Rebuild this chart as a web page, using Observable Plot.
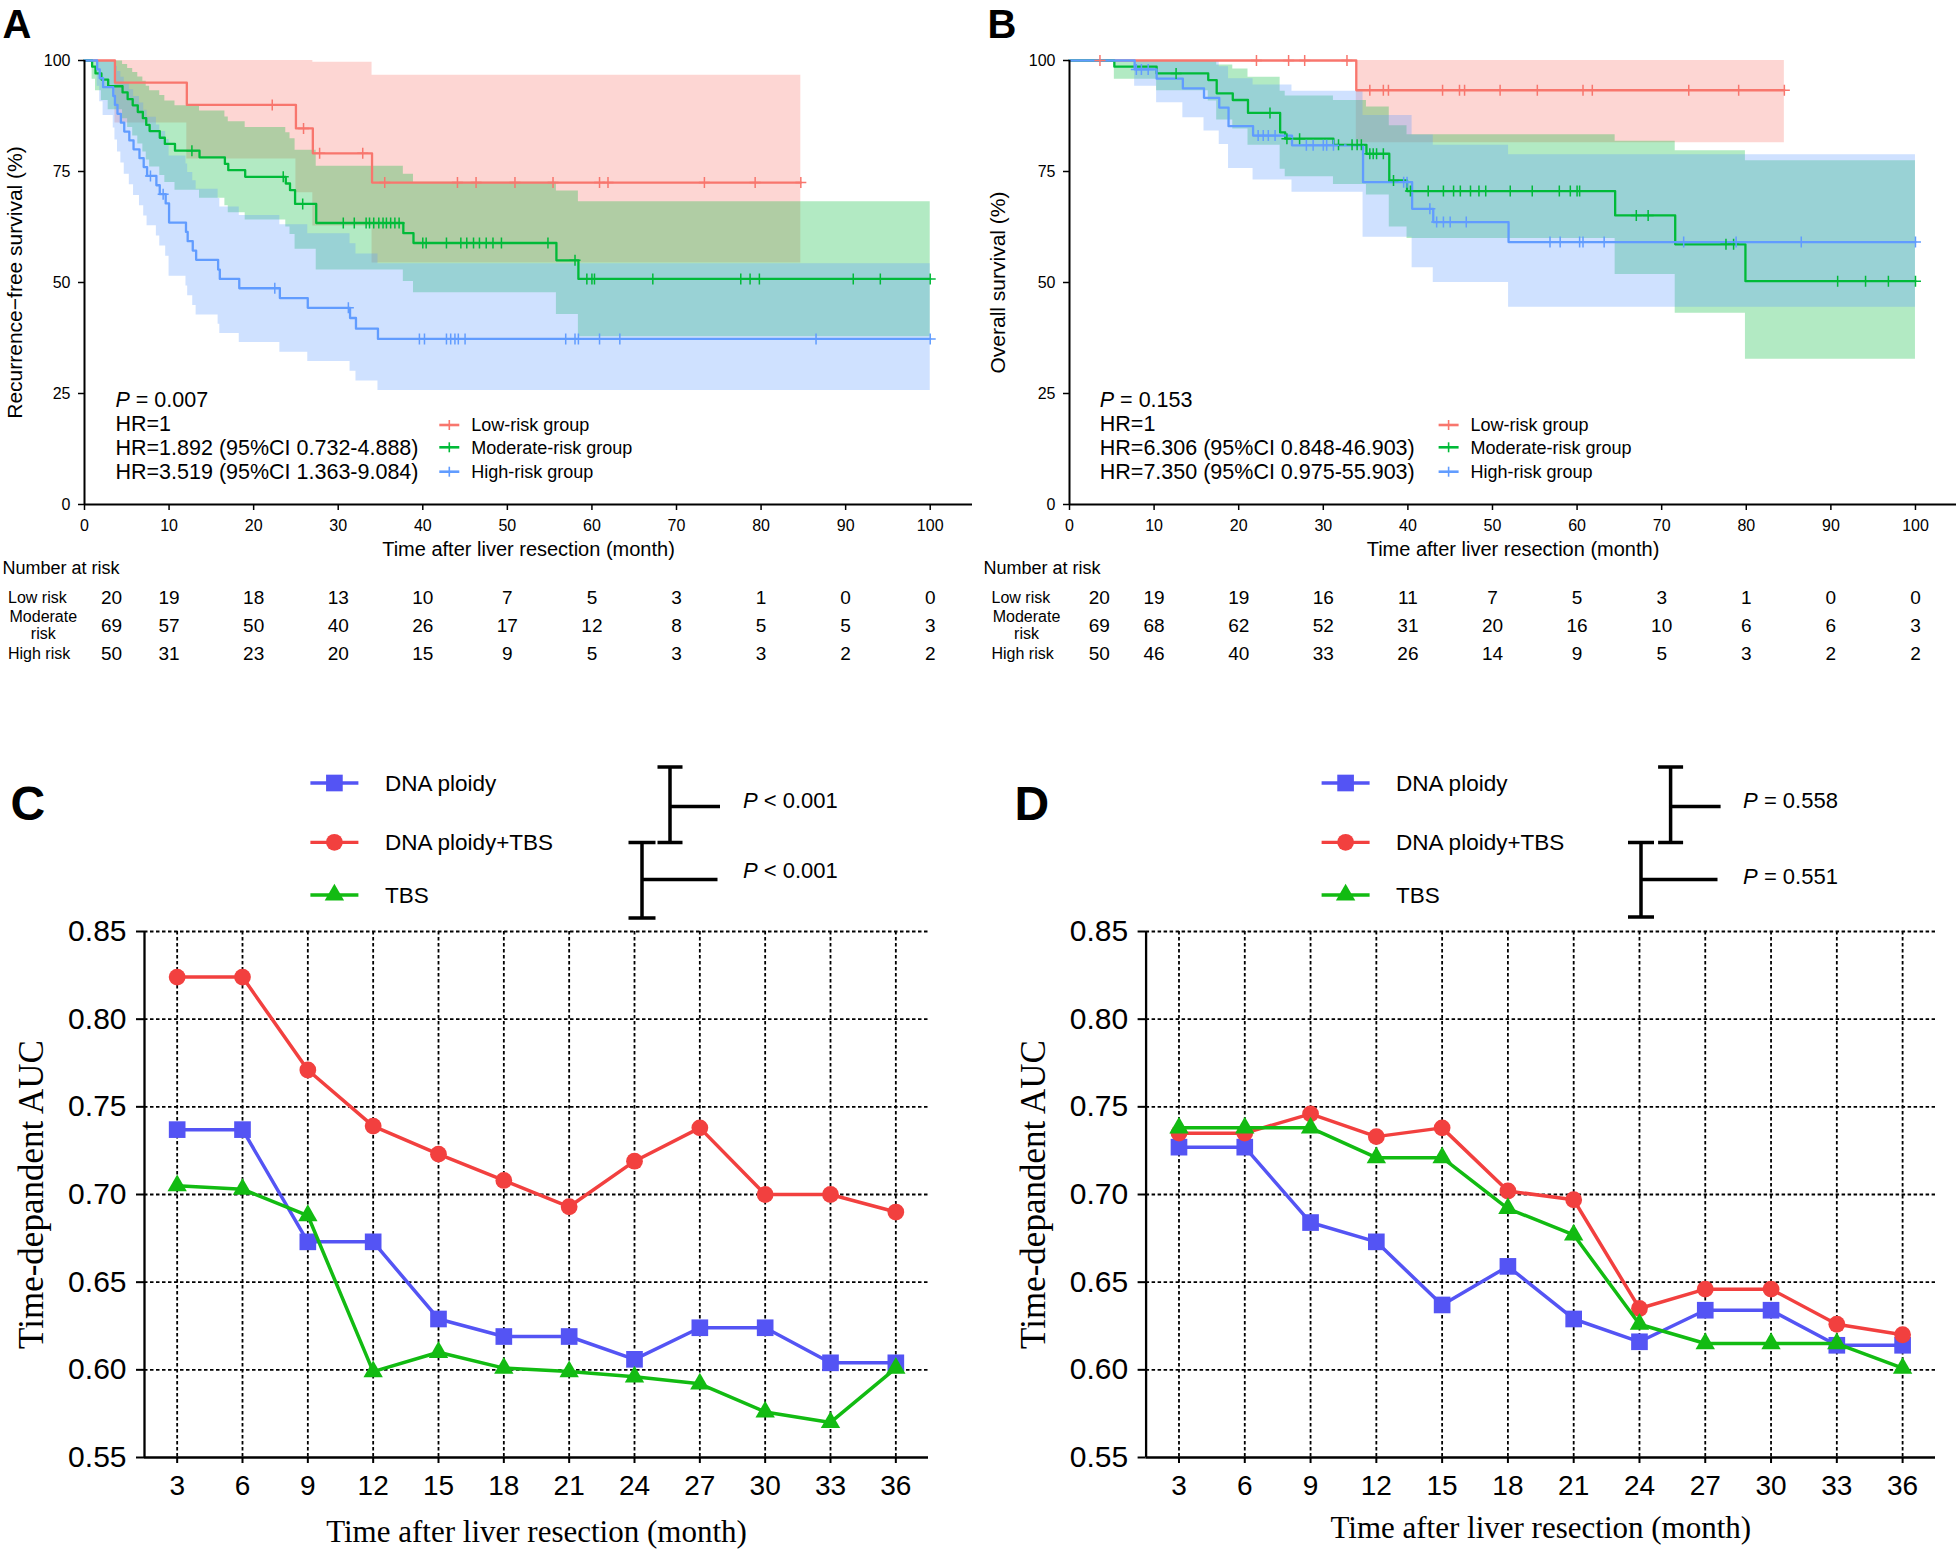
<!DOCTYPE html>
<html><head><meta charset="utf-8">
<script src="https://cdn.jsdelivr.net/npm/d3@7"></script>
<script src="https://cdn.jsdelivr.net/npm/@observablehq/plot@0.6"></script>
<style>
html,body{margin:0;padding:0;background:#fff;}
#fig{position:relative;width:1956px;height:1552px;overflow:hidden;background:#fff;}
</style></head>
<body><div id="fig"></div>
<script>
// ---------------- DATA ----------------
const kmGroupNames = ["Low-risk group", "Moderate-risk group", "High-risk group"];
const kmColors = ["#F8766D", "#00BA38", "#619CFF"];

// Panel A: recurrence-free survival  [month, %]
const rfsLowSteps = [[0,100],[3.6,95.0],[12.1,90.0],[25.0,84.7],[27.0,79.1],[34.0,72.5]];
const rfsLowBand = [[0,100,100],[3.6,85.9,100],[12.1,77.8,100],[25.0,70.2,100],[27.0,62.7,99.6],[34.0,54.4,96.7]];
const rfsLowCensor = [22.2,25.9,27.8,32.9,35.5,44.1,46.3,50.9,55.4,60.9,61.9,73.3,79.3,84.7];
const rfsLowEnd = 84.7;

const rfsModSteps = [[0,100],[0.9,98.6],[1.3,97.1],[2.0,95.7],[2.8,94.2],[4.5,92.8],[5.1,91.3],[5.7,89.9],[6.3,88.4],[6.9,87.0],[7.3,85.5],[7.7,84.1],[8.9,82.6],[9.5,81.2],[10.7,79.7],[13.6,78.2],[16.6,76.7],[17.0,75.3],[19.0,73.8],[23.8,72.3],[24.3,70.8],[24.9,67.7],[27.4,63.4],[37.7,61.1],[38.9,58.9],[55.8,55.0],[58.4,50.8]];
const rfsModBand = [[0,100,100],[0.9,95.8,100],[1.3,93.2,100],[2.0,91.0,100],[2.8,88.9,99.9],[4.5,86.9,99.1],[5.1,84.9,98.2],[5.7,83.0,97.3],[6.3,81.2,96.3],[6.9,79.4,95.3],[7.3,77.6,94.2],[7.7,76.0,93.2],[8.9,74.1,92.1],[9.5,72.5,90.9],[10.7,70.8,89.8],[13.6,69.0,88.6],[16.6,67.3,87.3],[17.0,65.7,86.2],[19.0,64.1,84.9],[23.8,62.5,83.7],[24.3,60.8,82.4],[24.9,57.5,79.8],[27.4,52.8,76.2],[37.7,50.2,74.4],[38.9,47.7,72.6],[55.8,42.8,70.6],[58.4,37.8,68.2]];
const rfsModCensor = [12.7,23.5,25.8,30.6,31.9,33.3,33.7,34.2,34.8,35.3,35.7,36.2,36.7,37.2,40.0,40.4,42.8,44.5,45.2,46.0,46.7,47.5,48.3,49.3,54.8,58.0,59.4,60.0,60.3,67.2,77.6,78.7,79.8,90.9,94.1,100];
const rfsModEnd = 100;

const rfsHighSteps = [[0,100],[1.5,98],[1.8,96],[2.2,94],[3.4,92],[3.6,90],[3.9,88],[4.3,86],[4.7,84],[5.3,82],[5.8,80],[6.5,78],[7.0,76],[7.4,74],[8.5,71.9],[8.9,69.9],[9.6,67.8],[10.0,63.5],[12.0,61.4],[12.2,59.3],[12.8,57.2],[13.2,55.1],[15.8,52.9],[16.0,50.8],[18.3,48.7],[23.1,46.5],[26.4,44.3],[31.4,42.0],[32.1,39.6],[34.7,37.3]];
const rfsHighBand = [[0,100,100],[1.5,94.2,100],[1.8,90.7,100],[2.2,87.6,100],[3.4,84.8,99.8],[3.6,82.1,98.7],[3.9,79.4,97.5],[4.3,76.9,96.2],[4.7,74.4,94.8],[5.3,72.0,93.4],[5.8,69.6,91.9],[6.5,67.3,90.4],[7.0,65.0,88.8],[7.4,62.8,87.2],[8.5,60.5,85.5],[8.9,58.2,84.0],[9.6,55.9,82.2],[10.0,51.4,78.5],[12.0,49.2,76.7],[12.2,47.0,74.8],[12.8,44.8,72.9],[13.2,42.7,71.0],[15.8,40.6,68.9],[16.0,38.5,67.0],[18.3,36.5,65.1],[23.1,34.3,63.0],[26.4,32.2,61.0],[31.4,30.0,58.7],[32.1,27.8,56.4],[34.7,25.7,54.2]];
const rfsHighCensor = [7.8,9.3,22.5,31.2,39.6,40.2,42.8,43.3,43.8,44.2,45.0,56.9,58.0,58.4,60.9,63.3,86.5,100];
const rfsHighEnd = 100;

// Panel B: overall survival
const osLowSteps = [[0,100],[33.9,93.3]];
const osLowBand = [[0,100,100],[33.9,81.5,100]];
const osLowCensor = [3.6,22.1,25.9,27.8,32.8,35.5,37.1,37.7,44.1,46.1,46.7,50.9,55.3,60.7,61.8,73.2,79.1,84.5];
const osLowEnd = 84.5;

const osModSteps = [[0,100],[5.3,98.6],[10.3,97.1],[16.4,95.6],[17.4,92.6],[19.3,91.1],[21.1,88.2],[24.9,83.8],[25.5,82.4],[31.2,81.0],[35.1,79.0],[37.8,73.0],[39.9,70.6],[64.5,65.1],[71.6,58.6],[79.9,50.3]];
const osModBand = [[0,100,100],[5.3,95.8,100],[10.3,93.2,100],[16.4,90.9,100],[17.4,86.6,99.0],[19.3,84.6,98.1],[21.1,80.9,96.2],[24.9,75.5,93.1],[25.5,73.8,92.0],[31.2,72.1,91.0],[35.1,69.7,89.5],[37.8,62.5,85.3],[39.9,59.9,83.3],[64.5,51.8,81.8],[71.6,43.1,79.7],[79.9,32.7,77.4]];
const osModCensor = [12.6,23.7,25.7,27.2,31.8,33.4,34.0,34.5,35.5,35.9,36.3,37.1,38.3,40.3,42.4,44.2,45.4,46.2,47.4,48.4,49.2,52.1,54.7,57.9,59.2,60.0,60.3,67.0,68.4,77.6,78.5,90.8,94.1,96.8,100];
const osModEnd = 100;

const osHighSteps = [[0,100],[7.7,98.0],[10.3,95.9],[13.4,93.7],[15.9,91.6],[17.7,89.4],[18.8,85.2],[21.7,83.1],[26.3,80.9],[34.7,72.6],[40.5,66.6],[43.0,63.6],[51.9,59.1]];
const osHighBand = [[0,100,100],[7.7,94.2,100],[10.3,90.5,100],[13.4,87.1,100],[15.9,84.1,99.8],[17.7,81.1,98.6],[18.8,75.7,95.9],[21.7,73.1,94.5],[26.3,70.3,93.1],[34.7,60.2,87.6],[40.5,53.3,83.2],[43.0,50.0,80.9],[51.9,44.4,78.8]];
const osHighCensor = [7.9,8.5,9.3,22.3,22.9,23.5,24.3,28.0,28.8,30.0,30.4,31.2,39.5,39.9,42.6,43.4,44.2,45.0,46.9,56.8,58.0,60.3,60.7,63.2,72.6,78.8,86.5,100];
const osHighEnd = 100;

// Number at risk
const riskTimes = [0,10,20,30,40,50,60,70,80,90,100];
const riskRowNames = ["Low risk", "Moderate risk", "High risk"];
const riskRowLabels = ["Low risk", "Moderate\nrisk", "High risk"];
const rfsRiskLow  = [20,19,18,13,10,7,5,3,1,0,0];
const rfsRiskMod  = [69,57,50,40,26,17,12,8,5,5,3];
const rfsRiskHigh = [50,31,23,20,15,9,5,3,3,2,2];
const osRiskLow   = [20,19,19,16,11,7,5,3,1,0,0];
const osRiskMod   = [69,68,62,52,31,20,16,10,6,6,3];
const osRiskHigh  = [50,46,40,33,26,14,9,5,3,2,2];

// Panels C & D: time-dependent AUC
const aucMonths = [3,6,9,12,15,18,21,24,27,30,33,36];
const aucYTicks = [0.55,0.60,0.65,0.70,0.75,0.80,0.85];
const aucSeries = ["DNA ploidy", "DNA ploidy+TBS", "TBS"];
const aucColors = ["#5454F4", "#F2403F", "#12BB12"];
const rfsAucPloidy   = [0.737,0.737,0.673,0.673,0.629,0.619,0.619,0.606,0.624,0.624,0.604,0.604];
const rfsAucCombined = [0.824,0.824,0.771,0.739,0.723,0.708,0.693,0.719,0.738,0.700,0.700,0.690];
const rfsAucTbs      = [0.705,0.703,0.688,0.599,0.610,0.601,0.599,0.596,0.592,0.576,0.570,0.601];
const osAucPloidy    = [0.727,0.727,0.684,0.673,0.637,0.659,0.629,0.616,0.634,0.634,0.614,0.614];
const osAucCombined  = [0.735,0.735,0.746,0.733,0.738,0.702,0.697,0.635,0.646,0.646,0.626,0.620];
const osAucTbs       = [0.738,0.738,0.738,0.721,0.721,0.692,0.677,0.626,0.615,0.615,0.615,0.601];

// ---------------- HELPERS ----------------
const SANS = "'Liberation Sans', Arial, Helvetica, sans-serif";
const SERIF = "'Liberation Serif', 'Times New Roman', Times, serif";
const fig = document.getElementById("fig");
const baseStyle = {fontFamily: SANS, fontSize: "16px", color: "#000", background: "transparent", maxWidth: "none", overflow: "visible"};
function place(svg, left, top) {
  svg.style.position = "absolute";
  svg.style.left = left + "px";
  svg.style.top = top + "px";
  fig.appendChild(svg);
  return svg;
}
function stepAt(steps, t) {
  let v = steps[0][1];
  for (const [tt, s] of steps) if (tt <= t) v = s;
  return v;
}
const crossSymbol = {
  draw(ctx, size) {
    const h = Math.sqrt(size / Math.PI);
    ctx.moveTo(-h, 0); ctx.lineTo(h, 0);
    ctx.moveTo(0, -h); ctx.lineTo(0, h);
  }
};

// ---------------- KM PANEL ----------------
function kmPanel(cfg) {
  const lineRows = [], bandRows = [], censorRows = [];
  cfg.groups.forEach(g => {
    const lastS = g.steps[g.steps.length - 1][1];
    [...g.steps, [g.end, lastS]].forEach(([t, s]) => lineRows.push({t, s, g: g.name}));
    const lb = g.band[g.band.length - 1];
    [...g.band, [g.end, lb[1], lb[2]]].forEach(([t, lo, hi]) => bandRows.push({t, lo, hi, g: g.name}));
    g.censor.forEach(t => censorRows.push({t, s: stepAt(g.steps, t), g: g.name}));
  });
  const marks = [
    Plot.areaY(bandRows, {x: "t", y1: "lo", y2: "hi", z: "g", fill: "g", fillOpacity: 0.3, curve: "step-after"}),
    Plot.line(lineRows, {x: "t", y: "s", z: "g", stroke: "g", strokeWidth: 2.3, curve: "step-after"}),
    Plot.dot(censorRows, {x: "t", y: "s", stroke: "g", fill: "none", symbol: crossSymbol, r: 5.5, strokeWidth: 1.5}),
    Plot.ruleY([0], {stroke: "#000", strokeWidth: 2}),
    Plot.ruleX([0], {y1: 0, y2: 100, stroke: "#000", strokeWidth: 2}),
    Plot.axisX({ticks: d3.range(0, 101, 10), tickSize: 6, tickPadding: 9, fontSize: 16, label: null, strokeWidth: 1.5}),
    Plot.axisY({ticks: [0, 25, 50, 75, 100], tickSize: 6, tickPadding: 8, fontSize: 16, label: null, strokeWidth: 1.5}),
    Plot.text(["Time after liver resection (month)"], {text: d => d, frameAnchor: "bottom", dy: 45, fontSize: 20, lineAnchor: "middle"}),
    Plot.text([cfg.yLabel], {text: d => d, frameAnchor: "left", dx: cfg.yLabelDx, rotate: -90, fontSize: 21, textAnchor: "middle", lineAnchor: "middle"}),
    Plot.text([cfg.letter], {text: d => d, frameAnchor: "top-left", dx: -82, dy: -23, fontSize: 40, fontWeight: "bold", textAnchor: "start", lineAnchor: "bottom"}),
    Plot.text(["P"], {text: d => d, frameAnchor: "bottom-left", dx: cfg.statsDx, dy: -98, fontSize: 21.5, fontStyle: "italic", textAnchor: "start", lineAnchor: "bottom"}),
  ];
  const statDy = [-98, -74, -50, -26];
  cfg.stats.forEach((s, i) => {
    marks.push(Plot.text([s], {text: d => d, frameAnchor: "bottom-left", dx: cfg.statsDx + (i === 0 ? 20.3 : 0), dy: statDy[i], fontSize: 21.5, textAnchor: "start", lineAnchor: "bottom"}));
  });
  const legDy = [-79, -56.7, -32.3];
  kmGroupNames.forEach((n, i) => {
    marks.push(Plot.text([n], {text: d => d, frameAnchor: "bottom-left", dx: cfg.legendTextDx, dy: legDy[i], fontSize: 18, textAnchor: "start", lineAnchor: "middle"}));
  });
  const svg = Plot.plot({
    width: cfg.width, height: 560,
    marginLeft: cfg.marginLeft, marginRight: cfg.marginRight, marginTop: 60, marginBottom: 56,
    x: {domain: [0, cfg.xMax]},
    y: {domain: [0, 100]},
    color: {domain: kmGroupNames, range: kmColors},
    style: baseStyle,
    marks
  });
  place(svg, cfg.left, 0);
  // legend swatches
  const frameBottom = 504;
  const sel = d3.select(svg);
  kmGroupNames.forEach((n, i) => {
    const y = frameBottom + legDy[i], x = cfg.marginLeft + cfg.legendTextDx - 21.4;
    const g = sel.append("g").attr("stroke", kmColors[i]).attr("fill", "none");
    g.append("path").attr("d", `M${x - 10},${y}H${x + 10}`).attr("stroke-width", 2.6);
    g.append("path").attr("d", `M${x},${y - 5}V${y + 5}`).attr("stroke-width", 1.6);
  });
}

function riskTable(cfg) {
  const rows = [];
  riskRowNames.forEach((r, ri) => riskTimes.forEach((t, i) => rows.push({t, row: r, n: cfg.values[ri][i]})));
  const svg = Plot.plot({
    width: cfg.width, height: 130,
    marginLeft: cfg.marginLeft, marginRight: cfg.marginRight, marginTop: 0, marginBottom: 0,
    x: {domain: [0, cfg.xMax], axis: null},
    y: {type: "point", domain: riskRowNames, range: [57, 113], padding: 0, axis: null},
    style: baseStyle,
    marks: [
      Plot.text(["Number at risk"], {text: d => d, frameAnchor: "top-left", dx: cfg.numberDx, dy: 27.5, fontSize: 18, textAnchor: "start", lineAnchor: "middle"}),
      Plot.text(riskRowNames.filter(r => r !== "Moderate risk"), {y: d => d, text: d => riskRowLabels[riskRowNames.indexOf(d)], frameAnchor: "left", dx: cfg.labelDx, fontSize: 16, textAnchor: "start", lineAnchor: "middle"}),
      Plot.text(["Moderate risk"], {y: d => d, text: d => riskRowLabels[riskRowNames.indexOf(d)], frameAnchor: "left", dx: cfg.modDx, fontSize: 16, textAnchor: "middle", lineAnchor: "middle", lineHeight: 1.05}),
      Plot.text(rows.filter(d => d.t === 0), {x: "t", y: "row", text: "n", dx: cfg.firstDx, fontSize: 19, lineAnchor: "middle"}),
      Plot.text(rows.filter(d => d.t > 0), {x: "t", y: "row", text: "n", fontSize: 19, lineAnchor: "middle"})
    ]
  });
  place(svg, cfg.left, 540);
}

// ---------------- AUC PANEL ----------------
function aucPanel(cfg) {
  const rows = [];
  cfg.values.forEach((vals, si) => vals.forEach((v, i) => rows.push({month: aucMonths[i], auc: v, series: aucSeries[si]})));
  const symbols = ["square", "circle", "triangle"];
  const radii = [9.4, 8.4, 7.2];
  const gridStyle = {stroke: "#000", strokeOpacity: 1, strokeWidth: 1.8, strokeDasharray: "3.5,2.5"};
  const marks = [
    Plot.gridX({ticks: aucMonths, ...gridStyle}),
    Plot.gridY({ticks: aucYTicks.slice(1), ...gridStyle}),
    Plot.ruleY([0.55], {stroke: "#000", strokeWidth: 2.3}),
    Plot.ruleX([1.5], {y1: 0.55, y2: 0.85, stroke: "#000", strokeWidth: 2.3}),
    Plot.axisX({ticks: aucMonths, tickSize: 6, tickPadding: 12, fontSize: 28, label: null, strokeWidth: 2}),
    Plot.axisY({ticks: aucYTicks, tickSize: 8, tickPadding: 10, fontSize: 30, label: null, tickFormat: d3.format(".2f"), strokeWidth: 2}),
  ];
  aucSeries.forEach((s, si) => {
    const data = rows.filter(d => d.series === s);
    marks.push(Plot.line(data, {x: "month", y: "auc", stroke: aucColors[si], strokeWidth: 3.5}));
    marks.push(Plot.dot(data, {x: "month", y: "auc", fill: aucColors[si], stroke: "none", symbol: symbols[si], r: radii[si]}));
  });
  marks.push(
    Plot.text(["Time-depandent AUC"], {text: d => d, frameAnchor: "left", dx: cfg.yTitleDx, rotate: -90, fontFamily: SERIF, fontSize: 35, textAnchor: "middle", lineAnchor: "middle"}),
    Plot.text(["Time after liver resection (month)"], {text: d => d, frameAnchor: "bottom", dy: cfg.xTitleDy, fontFamily: SERIF, fontSize: 31, lineAnchor: "middle"}),
    Plot.text([cfg.letter], {text: d => d, frameAnchor: "top-left", dx: cfg.letterDx, dy: -112, fontSize: 48, fontWeight: "bold", textAnchor: "start", lineAnchor: "bottom"})
  );
  const legDy = [-148, -88.7, -36];
  aucSeries.forEach((s, i) => {
    marks.push(Plot.text([s], {text: d => d, frameAnchor: "top-left", dx: cfg.legendTextDx, dy: legDy[i], fontSize: 22.5, textAnchor: "start", lineAnchor: "middle"}));
  });
  cfg.pTexts.forEach((p, i) => {
    marks.push(Plot.text(["P"], {text: d => d, frameAnchor: "top-left", dx: cfg.pDx, dy: cfg.pDy[i], fontSize: 22, fontStyle: "italic", textAnchor: "start", lineAnchor: "middle"}));
    marks.push(Plot.text([p], {text: d => d, frameAnchor: "top-left", dx: cfg.pDx + 20.8, dy: cfg.pDy[i], fontSize: 22, textAnchor: "start", lineAnchor: "middle"}));
  });
  const svg = Plot.plot({
    width: cfg.width, height: 812,
    marginLeft: cfg.marginLeft, marginRight: cfg.marginRight, marginTop: 191, marginBottom: 95,
    x: {domain: [1.5, 37.5]},
    y: {domain: [0.55, 0.85]},
    style: baseStyle,
    marks
  });
  place(svg, cfg.left, 740);
  const sel = d3.select(svg);
  // legend swatches
  aucSeries.forEach((s, i) => {
    const x = cfg.marginLeft + cfg.legendTextDx - 50, y = 191 + legDy[i];
    sel.append("path").attr("d", `M${x - 24},${y}H${x + 24}`).attr("stroke", aucColors[i]).attr("stroke-width", 3.3);
    const symType = [d3.symbolSquare, d3.symbolCircle, d3.symbolTriangle][i];
    sel.append("path").attr("d", d3.symbol(symType, Math.PI * radii[i] * radii[i])()).attr("transform", `translate(${x},${y})`).attr("fill", aucColors[i]);
  });
  // comparison brackets
  const g = sel.append("g").attr("stroke", "#000").attr("stroke-width", 3.5).attr("fill", "none");
  cfg.brackets.forEach(b => {
    g.append("path").attr("d", `M${b.x},${b.y1}V${b.y2}M${b.x - b.c},${b.y1}H${b.x + b.c}M${b.x - b.c},${b.y2}H${b.x + b.c}M${b.x},${b.arm}H${b.armEnd}`);
  });
}

// ---------------- BUILD ----------------
kmPanel({
  left: 0, width: 980, marginLeft: 84, marginRight: 8, xMax: 105, letter: "A",
  yLabel: "Recurrence\u2212free survival (%)", yLabelDx: -69,
  statsDx: 31, legendTextDx: 386.7,
  stats: ["= 0.007", "HR=1", "HR=1.892 (95%CI 0.732-4.888)", "HR=3.519 (95%CI 1.363-9.084)"],
  groups: [
    {name: kmGroupNames[0], steps: rfsLowSteps, band: rfsLowBand, censor: rfsLowCensor, end: rfsLowEnd},
    {name: kmGroupNames[1], steps: rfsModSteps, band: rfsModBand, censor: rfsModCensor, end: rfsModEnd},
    {name: kmGroupNames[2], steps: rfsHighSteps, band: rfsHighBand, censor: rfsHighCensor, end: rfsHighEnd}
  ]
});
kmPanel({
  left: 980, width: 976, marginLeft: 89, marginRight: 0, xMax: 104.85, letter: "B",
  yLabel: "Overall survival (%)", yLabelDx: -71,
  statsDx: 30.3, legendTextDx: 401,
  stats: ["= 0.153", "HR=1", "HR=6.306 (95%CI 0.848-46.903)", "HR=7.350 (95%CI 0.975-55.903)"],
  groups: [
    {name: kmGroupNames[0], steps: osLowSteps, band: osLowBand, censor: osLowCensor, end: osLowEnd},
    {name: kmGroupNames[1], steps: osModSteps, band: osModBand, censor: osModCensor, end: osModEnd},
    {name: kmGroupNames[2], steps: osHighSteps, band: osHighBand, censor: osHighCensor, end: osHighEnd}
  ]
});
riskTable({left: 0, width: 980, marginLeft: 84, marginRight: 8, xMax: 105, firstDx: 27, numberDx: -82, labelDx: -76.5, modDx: -41.2,
  values: [rfsRiskLow, rfsRiskMod, rfsRiskHigh]});
riskTable({left: 980, width: 976, marginLeft: 89, marginRight: 0, xMax: 104.85, firstDx: 29.75, numberDx: -86, labelDx: -78, modDx: -43,
  values: [osRiskLow, osRiskMod, osRiskHigh]});

aucPanel({
  left: 0, width: 980, marginLeft: 144, marginRight: 52, letter: "C", letterDx: -134,
  yTitleDx: -113, xTitleDy: 75, legendTextDx: 240.4,
  values: [rfsAucPloidy, rfsAucCombined, rfsAucTbs],
  pTexts: ["< 0.001", "< 0.001"], pDx: 598.5, pDy: [-131, -61],
  brackets: [
    {x: 670, y1: 27, y2: 102.5, c: 12.5, arm: 66.6, armEnd: 720},
    {x: 642, y1: 102.5, y2: 178, c: 13.5, arm: 139.5, armEnd: 717.5}
  ]
});
aucPanel({
  left: 980, width: 976, marginLeft: 165.6, marginRight: 21, letter: "D", letterDx: -131.6,
  yTitleDx: -112.6, xTitleDy: 71, legendTextDx: 250,
  values: [osAucPloidy, osAucCombined, osAucTbs],
  pTexts: ["= 0.558", "= 0.551"], pDx: 597, pDy: [-130.6, -54.6],
  brackets: [
    {x: 690.6, y1: 27, y2: 102.5, c: 12.5, arm: 66.6, armEnd: 740.6},
    {x: 661, y1: 102.5, y2: 177, c: 13, arm: 139.5, armEnd: 737.5}
  ]
});
</script>
</body></html>
